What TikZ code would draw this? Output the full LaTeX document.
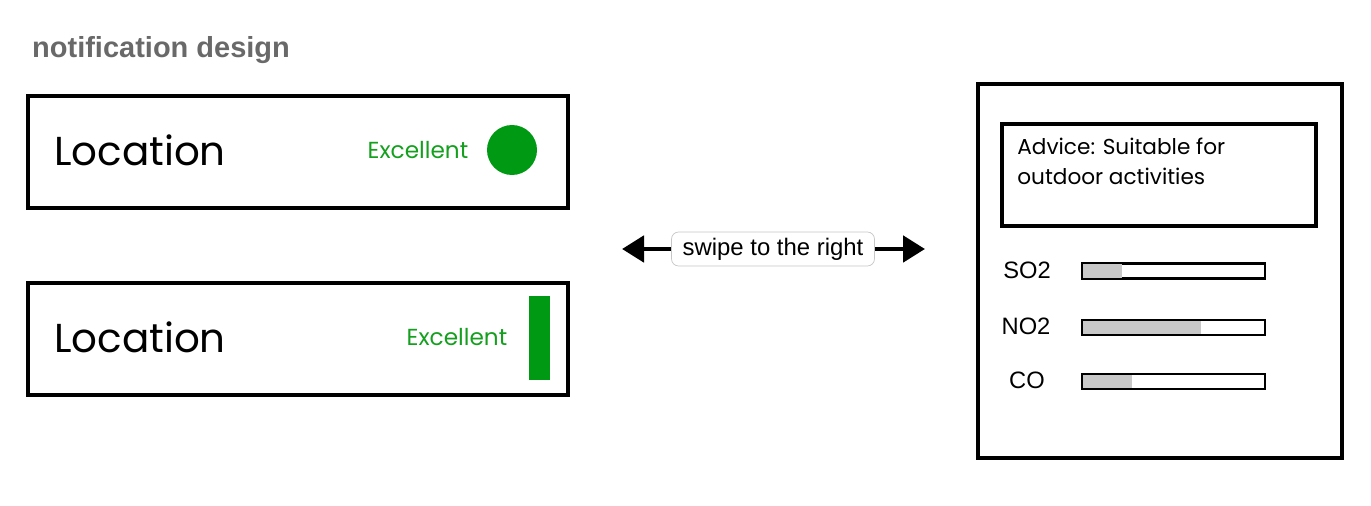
\documentclass[tikz,border=0pt]{standalone}
\usepackage{fontspec}
\setmainfont{Poppins}
\newfontfamily\titlefont{Liberation Sans}
\usetikzlibrary{arrows.meta,calc}
\definecolor{okgreen}{RGB}{0,153,20}
\definecolor{okgreentext}{RGB}{20,160,30}
\definecolor{titlegrey}{RGB}{105,105,105}
\definecolor{barfill}{RGB}{200,200,200}
\tikzset{
  sketchbox/.style={draw, line width=1.9pt, inner sep=0pt},
  barbox/.style={draw, line width=1.7pt, minimum width=3.66cm, minimum height=0.3cm, inner sep=0pt},
  gaslabel/.style={font=\titlefont\fontsize{13.5}{15}\selectfont},
  statustext/.style={text=okgreentext, font=\fontsize{13.2}{15}\selectfont},
}
\begin{document}
\begin{tikzpicture}[x=0.02cm, y=-0.02cm]
    \useasboundingbox (0,0) rectangle (1371,506);
    \node [anchor=west, text=titlegrey, font=\titlefont\bfseries\fontsize{16.5}{18}\selectfont] (title) at (26,50) {notification design};
    % circle notification
    \node [sketchbox, minimum width=10.8cm, minimum height=2.24cm] (note1) at (298,152) {};
    \node [anchor=west, font=\fontsize{23}{27}\selectfont] (loc1) at (48,150) {Location};
    \node [statustext] (exc1) at (418,150) {Excellent};
    \node [circle, fill=okgreen, minimum size=1cm, inner sep=0pt] (dot1) at (512,150) {};
    % bar notification
    \node [sketchbox, minimum width=10.8cm, minimum height=2.24cm] (note2) at (298,339) {};
    \node [anchor=west, font=\fontsize{23}{27}\selectfont] (loc2) at (48,337) {Location};
    \node [statustext] (exc2) at (457,337) {Excellent};
    \node [fill=okgreen, minimum width=0.42cm, minimum height=1.68cm, inner sep=0pt] (strip2) at (539.5,338) {};
    % swipe
    \coordinate (swL) at (622,249);
    \coordinate (swR) at (925,249);
    \draw [{Triangle[length=0.44cm, width=0.52cm]}-{Triangle[length=0.44cm, width=0.52cm]}, line width=2.8pt] (swL) to (swR);
    \node [draw=gray!45, fill=white, rounded corners=4pt, minimum width=4.06cm, minimum height=0.68cm, inner sep=0pt, font=\titlefont\fontsize{13.6}{15}\selectfont] (swipe) at (773,249) {swipe to the right};
    % detail panel
    \node [sketchbox, minimum width=7.28cm, minimum height=7.48cm] (panel) at (1160,271) {};
    \node [sketchbox, minimum width=6.28cm, minimum height=2.04cm] (advice) at (1159,175) {};
    \node [anchor=north west, align=left, inner sep=0pt, font=\fontsize{12.3}{17}\selectfont] (advtext) at (1017,138) {Advice: Suitable for\\outdoor activities};
    \node [gaslabel] (so2) at (1027,270) {SO2};
    \node [gaslabel] (no2) at (1026,326) {NO2};
    \node [gaslabel] (co) at (1027,380) {CO};
    \node [barbox] (so2bar) at (1173.5,271) {};
    \node [barbox] (no2bar) at (1173.5,327.5) {};
    \node [barbox] (cobar) at (1173.5,381.5) {};
    \fill [barfill] ([shift={(2,2)}]so2bar.north west) rectangle ([shift={(41,-2)}]so2bar.south west);
    \fill [barfill] ([shift={(2,2)}]no2bar.north west) rectangle ([shift={(120,-2)}]no2bar.south west);
    \fill [barfill] ([shift={(2,2)}]cobar.north west) rectangle ([shift={(51,-2)}]cobar.south west);
  \end{tikzpicture}
\end{document}
